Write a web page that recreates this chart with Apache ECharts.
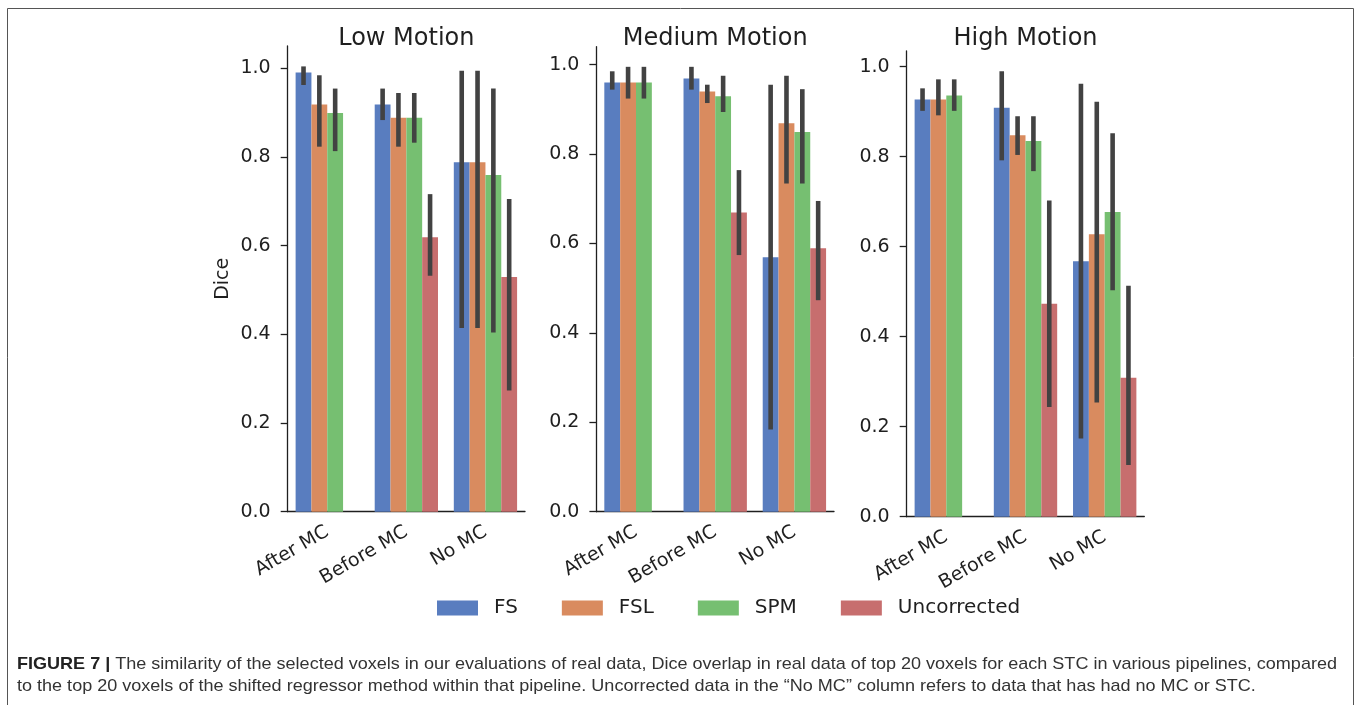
<!DOCTYPE html>
<html>
<head>
<meta charset="utf-8">
<script src="https://cdn.jsdelivr.net/npm/echarts@6/dist/echarts.min.js"></script>
<style>
html,body{margin:0;padding:0;background:#fff;}
#chart{width:1357px;height:705px;}
</style>
</head>
<body>
<div id="chart"></div>
<script>
// ---- data ----
var categories = ['After MC', 'Before MC', 'No MC'];
var seriesNames = ['FS', 'FSL', 'SPM', 'Uncorrected'];
var panelTitles = ['Low Motion', 'Medium Motion', 'High Motion'];
var yTicks = [0, 0.2, 0.4, 0.6, 0.8, 1.0];

// Low Motion
var lowFS  = [0.990, 0.918, 0.788];
var lowFSL = [0.918, 0.888, 0.788];
var lowSPM = [0.899, 0.888, 0.759];
var lowUNC = [null, 0.619, 0.529];
var lowFSLo  = [0.962, 0.883, 0.414], lowFSHi  = [1.004, 0.954, 0.994];
var lowFSLLo = [0.823, 0.823, 0.414], lowFSLHi = [0.984, 0.944, 0.994];
var lowSPMLo = [0.813, 0.832, 0.404], lowSPMHi = [0.954, 0.944, 0.954];
var lowUNCLo = [null, 0.532, 0.273],  lowUNCHi = [null, 0.716, 0.705];

// Medium Motion
var medFS  = [0.960, 0.969, 0.569];
var medFSL = [0.960, 0.940, 0.869];
var medSPM = [0.960, 0.929, 0.849];
var medUNC = [null, 0.669, 0.589];
var medFSLo  = [0.944, 0.944, 0.184], medFSHi  = [0.985, 0.995, 0.955];
var medFSLLo = [0.924, 0.914, 0.734], medFSLHi = [0.995, 0.955, 0.975];
var medSPMLo = [0.924, 0.894, 0.734], medSPMHi = [0.995, 0.975, 0.945];
var medUNCLo = [null, 0.574, 0.473],  medUNCHi = [null, 0.764, 0.695];

// High Motion
var highFS  = [0.927, 0.909, 0.568];
var highFSL = [0.927, 0.848, 0.628];
var highSPM = [0.936, 0.835, 0.677];
var highUNC = [null, 0.473, 0.309];
var highFSLo  = [0.902, 0.792, 0.174], highFSHi  = [0.952, 0.990, 0.962];
var highFSLLo = [0.892, 0.804, 0.254], highFSLHi = [0.972, 0.890, 0.922];
var highSPMLo = [0.902, 0.768, 0.503], highSPMHi = [0.972, 0.890, 0.852];
var highUNCLo = [null, 0.244, 0.115],  highUNCHi = [null, 0.703, 0.513];

var captionLine1 = 'The similarity of the selected voxels in our evaluations of real data, Dice overlap in real data of top 20 voxels for each STC in various pipelines, compared';
var captionLine2 = 'to the top 20 voxels of the shifted regressor method within that pipeline. Uncorrected data in the \u201cNo MC\u201d column refers to data that has had no MC or STC.';

// ---- styling / layout ----
var colors = ['#597DBF', '#D98B5F', '#76BF71', '#C76E6E'];
var errColor = '#424242';
var ink = '#1f1f1f';
var FONT = 'DejaVu Sans';
var TICK_FS = 19;

var panels = [
  {vals: [lowFS, lowFSL, lowSPM, lowUNC], lo: [lowFSLo, lowFSLLo, lowSPMLo, lowUNCLo], hi: [lowFSHi, lowFSLHi, lowSPMHi, lowUNCHi],
   grid: {left: 287.7, top: 46, width: 237.3, height: 465.7}, max: 1.05},
  {vals: [medFS, medFSL, medSPM, medUNC], lo: [medFSLo, medFSLLo, medSPMLo, medUNCLo], hi: [medFSHi, medFSLHi, medSPMHi, medUNCHi],
   grid: {left: 596.4, top: 46.7, width: 237.6, height: 465}, max: 1.04},
  {vals: [highFS, highFSL, highSPM, highUNC], lo: [highFSLo, highFSLLo, highSPMLo, highUNCLo], hi: [highFSHi, highFSLHi, highSPMHi, highUNCHi],
   grid: {left: 906.7, top: 51, width: 237.6, height: 465.7}, max: 1.035}
];

var grids = [], xAxes = [], yAxes = [], series = [], titles = [];
panels.forEach(function (p, pi) {
  grids.push({left: p.grid.left, top: p.grid.top, width: p.grid.width, height: p.grid.height, containLabel: false});
  titles.push({
    text: panelTitles[pi],
    left: p.grid.left + p.grid.width / 2 - 5,
    top: 22,
    textAlign: 'center',
    textStyle: {fontFamily: FONT, fontSize: 24, fontWeight: 'normal', color: ink}
  });
  xAxes.push({
    type: 'category', gridIndex: pi, data: categories, boundaryGap: true,
    axisLine: {lineStyle: {color: ink, width: 1.3}},
    axisTick: {alignWithLabel: true, length: 7, lineStyle: {color: ink, width: 1.3}},
    axisLabel: {rotate: 30, margin: 19, fontFamily: FONT, fontSize: TICK_FS, color: ink, interval: 0},
    splitLine: {show: false}
  });
  yAxes.push({
    type: 'value', gridIndex: pi, min: 0, max: p.max, interval: 0.2,
    name: pi === 0 ? 'Dice' : '', nameLocation: 'middle', nameGap: 55, nameRotate: 90,
    nameTextStyle: {fontFamily: FONT, fontSize: TICK_FS, color: ink},
    axisLine: {show: true, lineStyle: {color: ink, width: 1.3}},
    axisTick: {show: true, length: 7, lineStyle: {color: ink, width: 1.3}, customValues: yTicks},
    axisLabel: {margin: 17, fontFamily: FONT, fontSize: TICK_FS, color: ink, customValues: yTicks,
      formatter: function (v) { return v.toFixed(1); }},
    splitLine: {show: false}
  });
  p.vals.forEach(function (arr, si) {
    series.push({
      name: seriesNames[si], type: 'bar', xAxisIndex: pi, yAxisIndex: pi,
      data: arr, barGap: '0%', barCategoryGap: '20%',
      itemStyle: {color: colors[si]}, silent: true, z: 2
    });
  });
  var errData = [];
  p.lo.forEach(function (loArr, si) {
    loArr.forEach(function (lo, ci) {
      if (lo != null) errData.push([ci, lo, p.hi[si][ci], si]);
    });
  });
  series.push({
    type: 'custom', xAxisIndex: pi, yAxisIndex: pi, z: 5, silent: true,
    encode: {x: 0, y: [1, 2]},
    data: errData,
    renderItem: function (params, api) {
      var ci = api.value(0), lo = api.value(1), hi = api.value(2), si = api.value(3);
      var band = api.size([1, 0])[0];
      var bw = band * 0.8 / 4;
      var cx = api.coord([ci, 0])[0] + (si - 1.5) * bw;
      var y1 = api.coord([ci, lo])[1], y2 = api.coord([ci, hi])[1];
      return {type: 'line', shape: {x1: cx, y1: y1, x2: cx, y2: y2},
        style: {stroke: errColor, lineWidth: 4.6, lineCap: 'butt'}};
    }
  });
});

var chart = echarts.init(document.getElementById('chart'), null, {renderer: 'canvas'});
chart.setOption({
  animation: false,
  backgroundColor: '#fff',
  title: titles,
  grid: grids,
  xAxis: xAxes,
  yAxis: yAxes,
  legend: {
    data: seriesNames, left: 432, top: 593, orient: 'horizontal',
    icon: 'rect', itemWidth: 41, itemHeight: 15, itemGap: 44,
    textStyle: {fontFamily: FONT, fontSize: 20, color: ink, padding: [0, 0, 0, 11]},
    selectedMode: false
  },
  graphic: [
    {type: 'rect', shape: {x: 7.5, y: 8.5, width: 1346, height: 710}, style: {fill: 'none', stroke: '#555', lineWidth: 1}, silent: true},
    {type: 'text', x: 17, y: 664, scaleY: 0.92, style: {
      text: '{b|FIGURE 7 |} ' + captionLine1,
      font: '18.05px "Liberation Sans"', fill: '#333', verticalAlign: 'middle',
      rich: {b: {fontWeight: 'bold', fontFamily: 'Liberation Sans', fontSize: 18.05, fill: '#222'}}
    }},
    {type: 'text', x: 17, y: 686, scaleY: 0.92, style: {
      text: captionLine2, font: '18.05px "Liberation Sans"', fill: '#333', verticalAlign: 'middle'
    }}
  ],
  series: series
});
</script>
</body>
</html>
